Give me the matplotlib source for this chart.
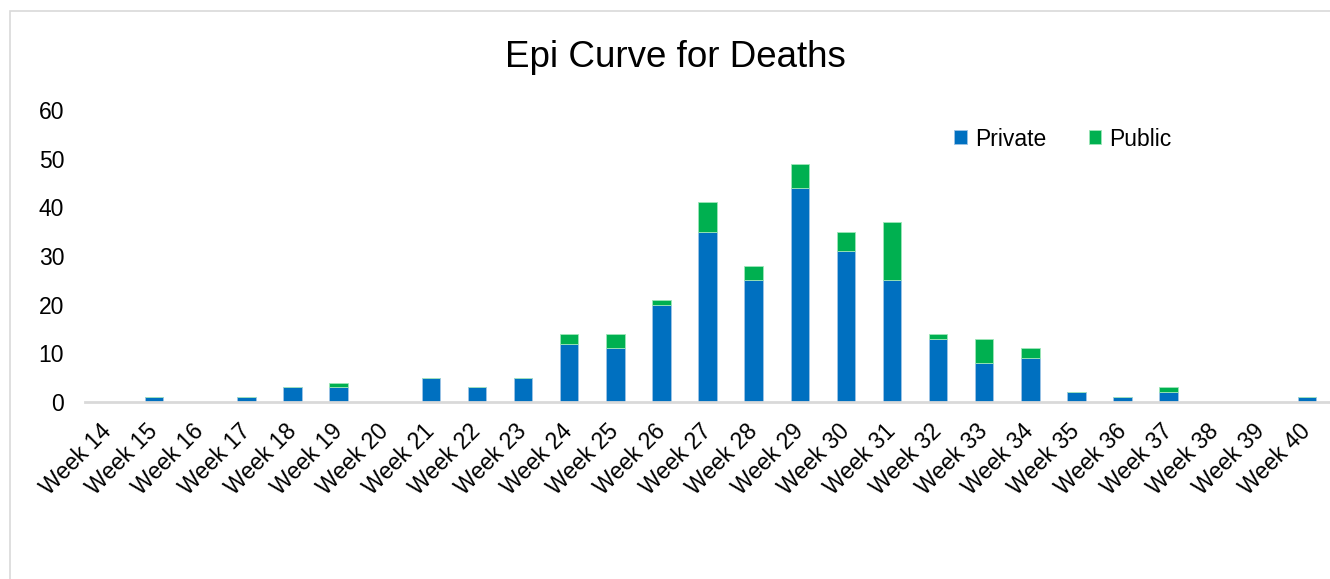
import matplotlib
matplotlib.use("Agg")
import matplotlib.pyplot as plt
from matplotlib.patches import Rectangle
from matplotlib.transforms import ScaledTranslation

weeks = [f"Week {w}" for w in range(14, 41)]
private = [0, 1, 0, 1, 3, 3, 0, 5, 3, 5, 12, 11, 20, 35, 25, 44, 31, 25, 13, 8, 9, 2, 1, 2, 0, 0, 1]
public = [0, 0, 0, 0, 0, 1, 0, 0, 0, 0, 2, 3, 1, 6, 3, 5, 4, 12, 1, 5, 2, 0, 0, 1, 0, 0, 0]
yticks = [0, 10, 20, 30, 40, 50, 60]

plt.rcParams['font.family'] = ['Liberation Sans', 'DejaVu Sans']

fig = plt.figure(figsize=(13.3, 5.79), dpi=100)
W, H = 1330, 579
# outer border
fig.add_artist(Rectangle((10 / W, -0.01), 1.1, 1 - 11 / H + 0.01, transform=fig.transFigure,
                         fill=False, edgecolor='#d9d9d9', linewidth=1.2))

ax = fig.add_axes([85 / W, 1 - 402 / H, (1330 - 85) / W, (402 - 110) / H])
x = list(range(len(weeks)))
blue = '#0070C0'
green = '#00B050'
ax.bar(x, private, width=0.4, color=blue, edgecolor='#9dc3e6', linewidth=0.6, label='Private')
ax.bar(x, public, width=0.4, bottom=private, color=green, edgecolor='#9ee6b8', linewidth=0.6, label='Public')

fs = 16.5
ax.set_xlim(-0.5, len(weeks) - 0.5)
ax.set_ylim(0, 60)
ax.set_yticks(yticks)
ax.set_yticklabels([str(v) for v in yticks], fontsize=fs, color='#000000')
ax.set_xticks(x)
ax.set_xticklabels(weeks, rotation=45, ha='right', rotation_mode='anchor', fontsize=fs)
ax.tick_params(axis='both', length=0)
ax.tick_params(axis='y', pad=15)
ax.tick_params(axis='x', pad=13)
off = ScaledTranslation(-8 / 100, 0, fig.dpi_scale_trans)
for lab in ax.get_xticklabels():
    lab.set_transform(lab.get_transform() + off)
for s in ['top', 'right', 'left']:
    ax.spines[s].set_visible(False)
ax.spines['bottom'].set_color('#d9d9d9')
ax.spines['bottom'].set_linewidth(2)

fig.text(675 / W, 1 - 67 / H, 'Epi Curve for Deaths', ha='center', va='baseline', fontsize=26.5)

leg = ax.legend(loc='center', bbox_to_anchor=((1063 - 85) / (1330 - 85), (402 - 139) / (402 - 110)),
                ncol=2, frameon=False, fontsize=fs, handlelength=0.55, handleheight=0.55,
                columnspacing=1.85, handletextpad=0.35)

fig.savefig('out.png', dpi=100)
